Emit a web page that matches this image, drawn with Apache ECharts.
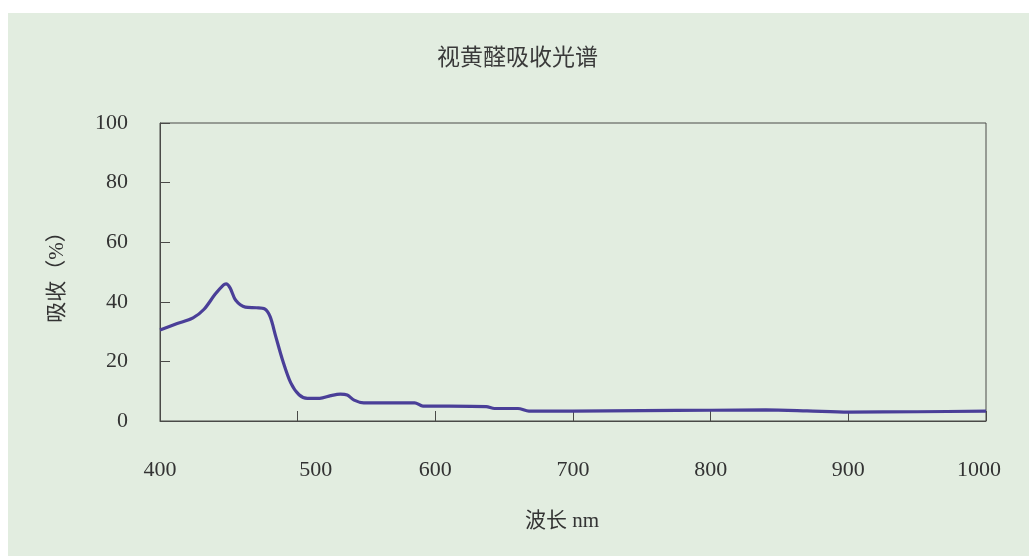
<!DOCTYPE html>
<html>
<head>
<meta charset="utf-8">
<script src="https://cdn.jsdelivr.net/npm/echarts@6/dist/echarts.min.js"></script>
<style>
  html, body { margin: 0; padding: 0; background: #ffffff; }
  #chart { width: 1029px; height: 556px; }
</style>
</head>
<body>
<div id="chart"></div>
<script>
// Retinal absorption spectrum: wavelength (nm) vs absorption (%)
const wavelengths = [400, 412, 424, 432, 440, 446, 448, 451, 455, 462, 470, 476, 480, 484, 489, 495, 501, 507, 516, 524, 531, 536, 541, 548, 560, 585, 591, 610, 637, 643, 660, 668, 700, 750, 800, 840, 870, 900, 950, 1000];
const absorption  = [30.5, 32.6, 34.6, 37.5, 42.5, 45.6, 46.0, 44.6, 40.5, 38.2, 38.0, 37.6, 35.0, 28.5, 20.5, 12.8, 8.8, 7.6, 7.6, 8.5, 9.0, 8.7, 7.0, 6.1, 6.1, 6.1, 5.0, 5.0, 4.8, 4.2, 4.2, 3.3, 3.3, 3.5, 3.6, 3.7, 3.4, 3.0, 3.1, 3.3];
const xTicks = [400, 500, 600, 700, 800, 900, 1000];
const yTicks = [0, 20, 40, 60, 80, 100];

const titleText = '视黄醛吸收光谱';
const xName = '波长 nm';
const yName = '吸收（%）';

const points = wavelengths.map((w, i) => [w, absorption[i]]);

const serif = '"Liberation Serif", "DejaVu Serif", serif';
const cjk = '"Noto Sans CJK SC", sans-serif';
const mixed = '"Liberation Serif", "Noto Sans CJK SC", serif';
const axisColor = '#4a4a48';
const textColor = '#333333';

const chart = echarts.init(document.getElementById('chart'), null, { renderer: 'canvas' });
chart.setOption({
  backgroundColor: '#ffffff',
  animation: false,
  graphic: [{
    type: 'rect',
    z: -10,
    silent: true,
    shape: { x: 8, y: 13, width: 1021, height: 543 },
    style: { fill: '#e2ede0' }
  }],
  title: {
    text: titleText,
    left: 432,
    top: 40,
    textStyle: { fontFamily: cjk, fontSize: 23, fontWeight: 'normal', color: '#3a3a3a' }
  },
  grid: {
    left: 160, right: 43, top: 123, bottom: 135,
    show: true, borderColor: axisColor, borderWidth: 1, backgroundColor: 'transparent'
  },
  xAxis: {
    type: 'value',
    min: xTicks[0], max: xTicks[xTicks.length - 1], interval: 100,
    name: xName,
    nameLocation: 'middle',
    nameGap: 90,
    nameTextStyle: { fontFamily: mixed, fontSize: 21, color: textColor, padding: [0, 22, 0, 0] },
    axisLine: { show: true, lineStyle: { color: axisColor, width: 1 } },
    axisTick: { show: true, inside: true, length: 10, lineStyle: { color: axisColor } },
    splitLine: { show: false },
    axisLabel: {
      margin: 38,
      fontFamily: serif, fontSize: 22, color: textColor,
      formatter: v => v === 500 ? '{r|' + v + '}' : (v === 1000 ? '{l|' + v + '}' : '{n|' + v + '}'),
      rich: {
        n: { fontFamily: serif, fontSize: 22, color: textColor },
        r: { fontFamily: serif, fontSize: 22, color: textColor, padding: [0, 0, 0, 36] },
        l: { fontFamily: serif, fontSize: 22, color: textColor, padding: [0, 14, 0, 0] }
      }
    }
  },
  yAxis: {
    type: 'value',
    min: yTicks[0], max: yTicks[yTicks.length - 1], interval: 20,
    name: yName,
    nameLocation: 'middle',
    nameRotate: 90,
    nameGap: 92,
    nameTextStyle: { fontFamily: mixed, fontSize: 21, color: textColor, padding: [0, 0, 0, 0] },
    axisLine: { show: true, lineStyle: { color: axisColor, width: 1 } },
    axisTick: { show: true, inside: true, length: 10, lineStyle: { color: axisColor } },
    splitLine: { show: false },
    axisLabel: { margin: 32, fontFamily: serif, fontSize: 22, color: textColor }
  },
  series: [{
    type: 'line',
    data: points,
    smooth: 0.3,
    showSymbol: false,
    lineStyle: { color: '#4a3f98', width: 3.2 }
  }]
});
</script>
</body>
</html>
